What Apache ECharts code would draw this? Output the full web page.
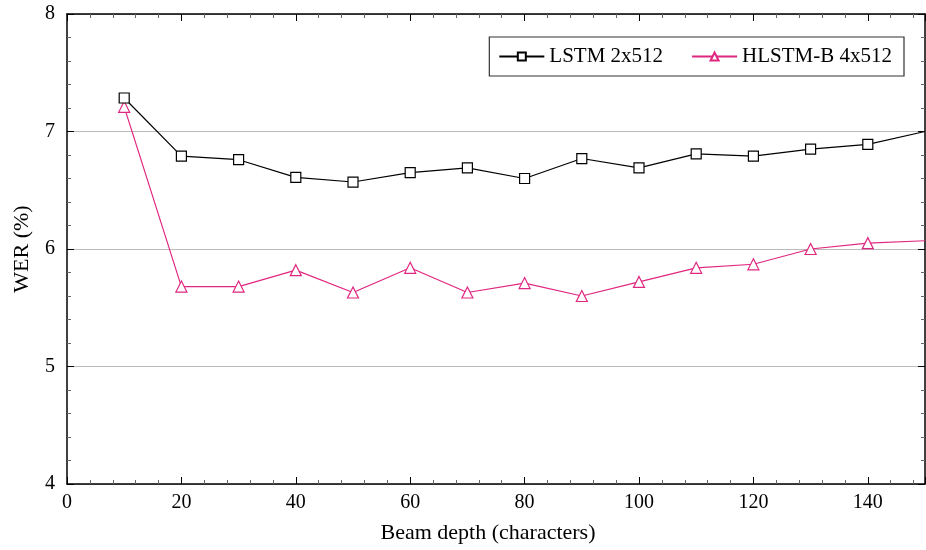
<html lang="en">
<head>
  <meta charset="utf-8">
  <title>WER vs beam depth</title>
  <style>
    body { margin: 0; background: #fff; }
    #chart { width: 926px; height: 550px; }
  </style>
</head>
<body>
  <div id="chart"></div>
  <script src="https://cdn.jsdelivr.net/npm/echarts@6/dist/echarts.min.js"></script>
  <script>
    var beamDepth = [10, 20, 30, 40, 50, 60, 70, 80, 90, 100, 110, 120, 130, 140, 150];
    var lstmWer = [7.285, 6.79, 6.76, 6.61, 6.57, 6.65, 6.69, 6.60, 6.77, 6.69, 6.81, 6.79, 6.85, 6.89, 7.0];
    var hlstmWer = [7.21, 5.68, 5.68, 5.82, 5.63, 5.84, 5.63, 5.71, 5.60, 5.72, 5.84, 5.87, 6.0, 6.05, 6.07];
    var seriesNames = ['LSTM 2x512', 'HLSTM-B 4x512'];

    var font = 'Liberation Serif';
    var pink = '#e0267f';

    // last point sits on the right edge, drawn without a marker
    function pairs(ys) {
      return beamDepth.map(function (x, i) {
        var item = { value: [x, ys[i]] };
        if (x === 150) item.symbol = 'none';
        return item;
      });
    }

    var plot = echarts.init(document.getElementById('chart'));

    var tickCommon = {
      axisLine: { show: true, onZero: false, lineStyle: { color: '#000', width: 1.5 } },
      axisTick: { show: true, inside: true, length: 7, lineStyle: { color: '#000' } },
      minorTick: { show: true, splitNumber: 5, length: 4, lineStyle: { color: '#666' } }
    };

    option = {
      animation: false,
      textStyle: { fontFamily: font },
      grid: { left: 67, right: 1, top: 14, bottom: 66 },
      legend: {
        data: seriesNames,
        right: 22,
        top: 37,
        padding: [9, 12, 9, 9],
        borderColor: '#333',
        borderWidth: 1.2,
        borderRadius: 0,
        itemWidth: 45,
        itemHeight: 10,
        itemGap: 28,
        textStyle: { fontFamily: font, fontSize: 21, color: '#000' }
      },
      xAxis: [
        Object.assign({
          type: 'value',
          min: 0,
          max: 150,
          interval: 20,
          position: 'bottom',
          name: 'Beam depth (characters)',
          nameLocation: 'middle',
          nameGap: 38,
          nameTextStyle: { fontFamily: font, fontSize: 22, color: '#000', padding: [0, 16, 0, 0] },
          axisLabel: {
            fontFamily: font, fontSize: 20, color: '#000', margin: 9,
            showMaxLabel: false
          },
          splitLine: { show: false }
        }, tickCommon),
        Object.assign({
          type: 'value',
          min: 0,
          max: 150,
          interval: 20,
          position: 'top',
          axisLabel: { show: false },
          splitLine: { show: false }
        }, tickCommon)
      ],
      yAxis: [
        Object.assign({
          type: 'value',
          min: 4,
          max: 8,
          interval: 1,
          position: 'left',
          name: 'WER (%)',
          nameLocation: 'middle',
          nameGap: 34,
          nameTextStyle: { fontFamily: font, fontSize: 22, color: '#000' },
          axisLabel: { fontFamily: font, fontSize: 20, color: '#000', margin: 12 },
          splitLine: { show: true, lineStyle: { color: '#bbb', width: 1 } }
        }, tickCommon),
        Object.assign({
          type: 'value',
          min: 4,
          max: 8,
          interval: 1,
          position: 'right',
          axisLabel: { show: false },
          splitLine: { show: false }
        }, tickCommon)
      ],
      series: [
        {
          name: seriesNames[0],
          type: 'line',
          data: pairs(lstmWer),
          symbol: 'rect',
          symbolSize: 10,
          showAllSymbol: true,
          clip: true,
          color: '#000',
          lineStyle: { color: '#000', width: 1.2 },
          itemStyle: { color: '#fff', borderColor: '#000', borderWidth: 1.2 },
          z: 3
        },
        {
          name: seriesNames[1],
          type: 'line',
          data: pairs(hlstmWer),
          symbol: 'triangle',
          symbolSize: 11,
          showAllSymbol: true,
          clip: true,
          color: pink,
          lineStyle: { color: pink, width: 1.2 },
          itemStyle: { color: '#fff', borderColor: pink, borderWidth: 1.2 },
          z: 2
        }
      ]
    };
    plot.setOption(option = option);
  </script>
</body>
</html>
